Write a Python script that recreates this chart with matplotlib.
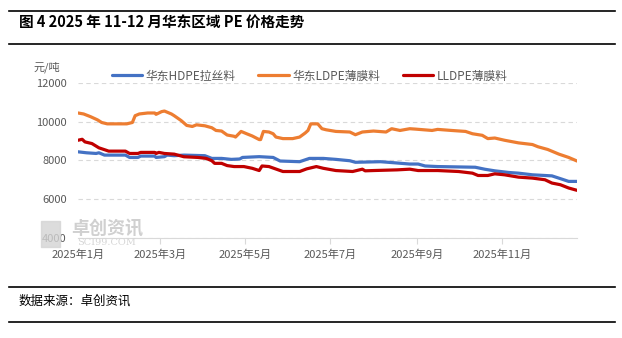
import numpy as np
import pandas as pd
import matplotlib
matplotlib.use('Agg')
import matplotlib.pyplot as plt
import matplotlib.dates as mdates

plt.rcParams['font.family'] = ['Noto Sans CJK SC', 'DejaVu Sans']

# Data (day offset from 2025-01-01, price in 元/吨)
hdpe_day = [0, 6, 13, 15, 19, 34, 37, 43, 45, 55, 56, 62, 64, 69, 76, 91, 96, 103, 110, 116,
            118, 130, 140, 145, 159, 166, 176, 185, 195, 199, 217, 226, 238, 244, 249, 258,
            285, 292, 299, 309, 316, 326, 340, 347, 352, 358]
hdpe_val = [8440, 8390, 8355, 8390, 8270, 8270, 8150, 8150, 8220, 8220, 8150, 8190, 8270, 8240,
            8270, 8240, 8100, 8100, 8050, 8070, 8150, 8190, 8150, 7965, 7930, 8100, 8100, 8050,
            7980, 7900, 7930, 7880, 7810, 7810, 7710, 7680, 7645, 7540, 7460, 7375, 7340, 7255,
            7200, 7035, 6915, 6915]

ldpe_day = [0, 4, 9, 14, 17, 21, 35, 39, 41, 44, 50, 55, 56, 60, 62, 67, 69, 74, 78, 82, 85,
            91, 96, 99, 103, 107, 112, 113, 117, 121, 125, 130, 131, 133, 137, 140, 142, 147,
            154, 159, 163, 165, 167, 172, 175, 178, 185, 195, 199, 204, 212, 221, 225, 231,
            238, 242, 254, 258, 268, 278, 283, 290, 294, 299, 306, 316, 326, 330, 337, 345,
            352, 358]
ldpe_val = [10440, 10390, 10250, 10085, 9950, 9880, 9880, 9950, 10300, 10390, 10440, 10440,
            10370, 10510, 10540, 10390, 10300, 10050, 9800, 9745, 9830, 9780, 9680, 9540, 9510,
            9305, 9240, 9200, 9490, 9370, 9255, 9070, 9070, 9490, 9460, 9370, 9200, 9120, 9120,
            9200, 9410, 9540, 9880, 9880, 9630, 9575, 9490, 9460, 9320, 9460, 9510, 9460, 9630,
            9540, 9630, 9610, 9540, 9595, 9540, 9490, 9370, 9290, 9120, 9150, 9035, 8900, 8815,
            8700, 8560, 8320, 8150, 7965]

lldpe_day = [0, 3, 5, 10, 15, 20, 22, 34, 37, 43, 45, 55, 56, 58, 62, 69, 76, 86, 92, 96, 98,
             103, 107, 112, 119, 125, 130, 132, 137, 147, 159, 164, 171, 176, 185, 197, 204,
             206, 212, 229, 238, 244, 258, 273, 283, 287, 294, 299, 306, 316, 326, 335, 340,
             346, 352, 358]
lldpe_val = [9035, 9085, 8950, 8865, 8645, 8525, 8475, 8475, 8355, 8355, 8410, 8410, 8355, 8410,
             8355, 8320, 8185, 8150, 8100, 7980, 7845, 7845, 7730, 7680, 7680, 7590, 7475, 7710,
             7680, 7425, 7425, 7560, 7680, 7590, 7475, 7425, 7545, 7460, 7475, 7510, 7545, 7475,
             7475, 7425, 7340, 7220, 7220, 7305, 7255, 7135, 7085, 7000, 6830, 6745, 6575, 6455]

names = ['华东HDPE拉丝料', '华东LDPE薄膜料', 'LLDPE薄膜料']
colors = ['#4472C4', '#ED7D31', '#C00000']
tick_labels = ['2025年1月', '2025年3月', '2025年5月', '2025年7月', '2025年9月', '2025年11月']
tick_dates = ['2025-01-01', '2025-03-01', '2025-05-01', '2025-07-01', '2025-09-01', '2025-11-01']

start = pd.Timestamp('2025-01-01')
def to_dates(days):
    return start + pd.to_timedelta(days, unit='D')

gray = '#595959'
fig = plt.figure(figsize=(6.22, 3.38), dpi=100)
ax = fig.add_axes([0.1254, 0.2959, 0.8023, 0.4594])

series = [(hdpe_day, hdpe_val), (ldpe_day, ldpe_val), (lldpe_day, lldpe_val)]
for (d, v), name, c in zip(series, names, colors):
    ax.plot(to_dates(d), v, color=c, linewidth=2.3, label=name,
            solid_joinstyle='round', solid_capstyle='round', zorder=3)

ax.set_ylim(4000, 12000)
ax.set_yticks([4000, 6000, 8000, 10000, 12000])
ax.set_xlim(to_dates([0])[0], to_dates([358])[0])
ax.set_xticks(pd.to_datetime(tick_dates))
ax.set_xticklabels(tick_labels)
ax.grid(axis='y', color='#D9D9D9', linestyle=(0, (4, 3)), linewidth=0.8)
ax.set_axisbelow(True)
for s in ['left', 'right', 'top']:
    ax.spines[s].set_visible(False)
ax.spines['bottom'].set_color('#D9D9D9')
ax.tick_params(axis='y', length=0, pad=8, labelsize=8, labelcolor=gray)
ax.tick_params(axis='x', length=4, color='#D9D9D9', pad=4, labelsize=8, labelcolor=gray)
# hide the tick mark at the left edge
ax.get_xticklines()[0].set_visible(False)

fig.text(0.076, 0.80, '元/吨', fontsize=8, color=gray, ha='center', va='center')

leg = ax.legend(loc='center', bbox_to_anchor=(0.498, 0.775), bbox_transform=fig.transFigure,
                ncol=3, frameon=False, fontsize=8.5, handlelength=2.6, handletextpad=0.3,
                columnspacing=1.9)
for t in leg.get_texts():
    t.set_color(gray)

# watermark
fig.patches.append(plt.Rectangle((0.066, 0.27), 0.03, 0.075, transform=fig.transFigure,
                                 color='#d4d4d4', alpha=0.8, zorder=1))
fig.text(0.172, 0.326, '卓创资讯', fontsize=13, color='#d0d0d0', ha='center', va='center',
         weight='bold', zorder=1)
fig.text(0.172, 0.283, 'SCI99.COM', fontsize=7, color='#d6d6d6', ha='center', va='center',
         family=['DejaVu Serif'], zorder=1)

# header and footer rules
for yy in [0.967, 0.870, 0.151, 0.047]:
    fig.add_artist(plt.Line2D([0.0145, 0.989], [yy, yy], transform=fig.transFigure,
                              color='black', linewidth=1.2))
fig.text(0.03, 0.932, '图 4 2025 年 11-12 月华东区域 PE 价格走势', fontsize=10.5,
         weight='bold', ha='left', va='center', color='black')
fig.text(0.03, 0.109, '数据来源：卓创资讯', fontsize=9, ha='left', va='center', color='black')

fig.savefig('out.png', dpi=100)
